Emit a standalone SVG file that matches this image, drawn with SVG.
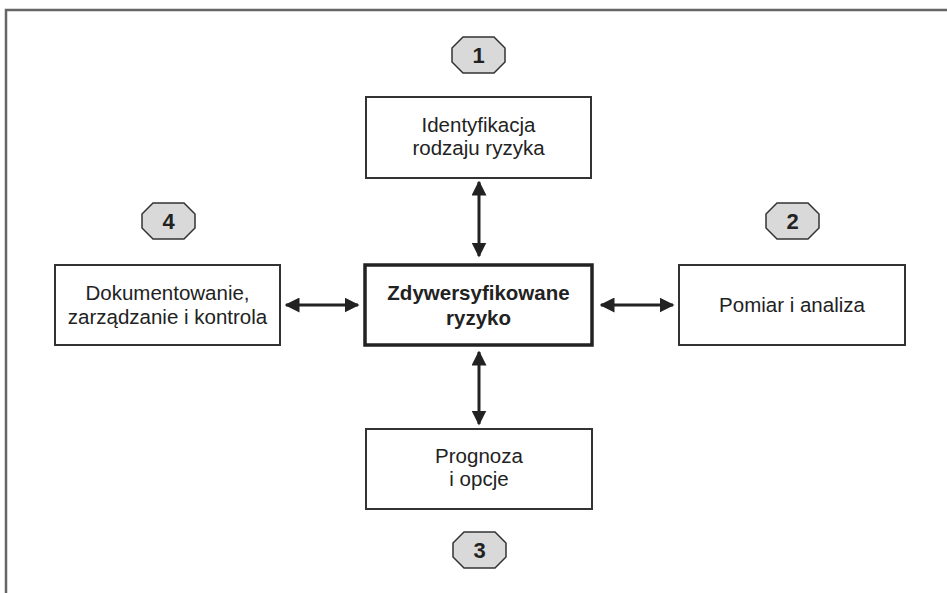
<svg xmlns="http://www.w3.org/2000/svg" width="947" height="593" viewBox="0 0 947 593">
<style>
.box{fill:#fff;stroke:#333;stroke-width:2}
.main{fill:#fff;stroke:#222;stroke-width:3.5}
.badge{fill:#d9d9d9;stroke:#333;stroke-width:1.5}
.t{font-family:"Liberation Sans",Arial,sans-serif;font-size:20.5px;fill:#222;text-anchor:middle}
.b{font-weight:bold}
.n{font-family:"Liberation Sans",Arial,sans-serif;font-size:22px;font-weight:bold;fill:#222;text-anchor:middle}
.c{stroke:#222;stroke-width:3;fill:none;marker-start:url(#ah);marker-end:url(#ah)}
</style>
<defs>
<marker id="ah" viewBox="0 0 10 10" refX="9" refY="5" markerWidth="5" markerHeight="5" orient="auto-start-reverse" markerUnits="strokeWidth">
<path d="M0,0 L10,5 L0,10 z" fill="#222"/>
</marker>
</defs>
<path d="M6,593 V10 H947" fill="none" stroke="#666" stroke-width="2.5"/>
<g id="connectors">
<line class="c" x1="479" y1="182" x2="479" y2="256"/>
<line class="c" x1="479" y1="352" x2="479" y2="424"/>
<line class="c" x1="286" y1="305" x2="358" y2="305"/>
<line class="c" x1="601" y1="305" x2="673" y2="305"/>
</g>
<g id="badge1"><polygon class="badge" points="463,37 494,37 505,48 505,62 494,73 463,73 452,62 452,48"/><text class="n" x="478.5" y="63">1</text></g>
<g id="badge2"><polygon class="badge" points="777,203 808,203 819,214 819,228 808,239 777,239 766,228 766,214"/><text class="n" x="792.5" y="229">2</text></g>
<g id="badge3"><polygon class="badge" points="464,532 495,532 506,543 506,557 495,568 464,568 453,557 453,543"/><text class="n" x="479.5" y="558">3</text></g>
<g id="badge4"><polygon class="badge" points="153,203 184,203 195,214 195,228 184,239 153,239 142,228 142,214"/><text class="n" x="168.5" y="229">4</text></g>
<g id="top"><rect class="box" x="366" y="97" width="225" height="81"/><text class="t" x="478.5" y="132">Identyfikacja</text><text class="t" x="478.5" y="155">rodzaju ryzyka</text></g>
<g id="center"><rect class="main" x="365" y="265" width="227" height="80"/><text class="t b" x="478.5" y="300">Zdywersyfikowane</text><text class="t b" x="478.5" y="325">ryzyko</text></g>
<g id="left"><rect class="box" x="55" y="265" width="225" height="80"/><text class="t" x="167.5" y="300">Dokumentowanie,</text><text class="t" x="167.5" y="324">zarządzanie i kontrola</text></g>
<g id="right"><rect class="box" x="679" y="265" width="226" height="80"/><text class="t" x="792" y="312">Pomiar i analiza</text></g>
<g id="bottom"><rect class="box" x="366" y="429" width="226" height="80"/><text class="t" x="479" y="463">Prognoza</text><text class="t" x="479" y="486">i opcje</text></g>
</svg>
